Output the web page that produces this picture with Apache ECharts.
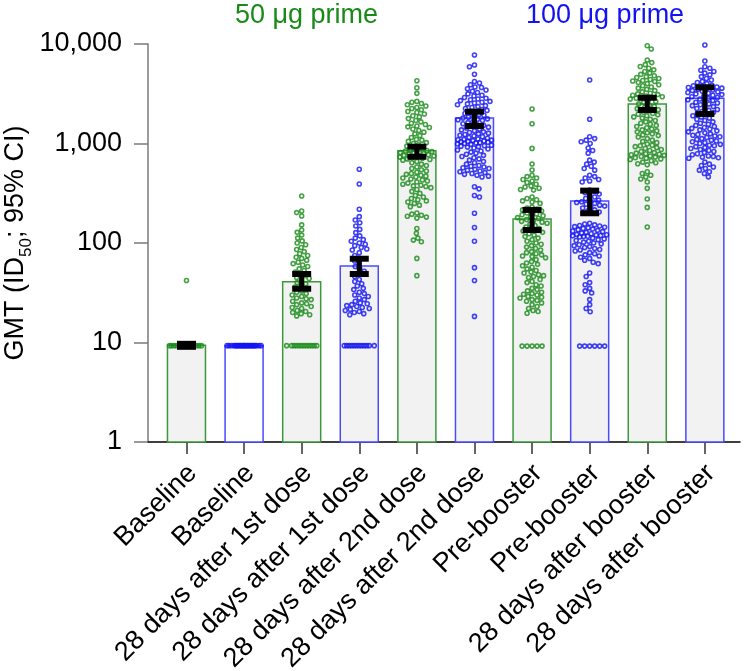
<!DOCTYPE html>
<html><head><meta charset="utf-8">
<script src="https://cdn.jsdelivr.net/npm/echarts@6/dist/echarts.min.js"></script>
<style>html,body{margin:0;padding:0;background:#fff}#c{width:747px;height:671px}</style>
</head><body><div id="c"></div>
<script>
const categories = ['Baseline','Baseline','28 days after 1st dose','28 days after 1st dose','28 days after 2nd dose','28 days after 2nd dose','Pre-booster','Pre-booster','28 days after booster','28 days after booster'];
const groupDose = ['50','100','50','100','50','100','50','100','50','100'];
const gmt = [9.4, 9.3, 40.8, 58.7, 847, 1805, 174, 264, 2495, 2846];
const ciLow = [9.05, null, 34.7, 48.8, 736, 1500, 135, 199, 2172, 1981];
const ciHigh = [9.7, null, 48.8, 69.5, 929, 2089, 215, 336, 2884, 3670];
const yTicks = [1, 10, 100, 1000, 10000];
const headerLabels = ['50 μg prime', '100 μg prime'];

const dots50Baseline = [42, 9.3,9.3,9.3,9.3,9.3,9.3,9.3,9.3,9.3,9.3,9.3,9.3,9.3,9.3];
const dots100Baseline = [9.3,9.3,9.3,9.3,9.3,9.3,9.3,9.3,9.3,9.3,9.3,9.3,9.3,9.3,9.3,9.3,9.3,9.3,9.3,9.3,9.3,9.3,9.3,9.3];
const dots50Dose1 = [297,210,202,187,152,135,128,120,112,105,100,96,90,86,82,78,75,72,70,67,64,62,60,58,55,53,51,49,47,45,44,42,40,39,37,36,35,33,32,31,30,29,28,27.5,27,26,25,24.5,24,23,22.5,22,21,20.5,20,19.5,19,18.5,
  9.3,9.3,9.3,9.3,9.3,9.3,9.3,9.3,9.3,9.3,9.3,9.3];
const dots100Dose1 = [551,392,218,184,170,160,148,137,127,118,112,108,104,100,97,94,90,87,85,80,75,70,66,62,58,55,52,49,46,43,41,39,37,35,34,32,31,30,29,28,27,26,25,24.5,24,23.5,23,22.5,22,21.5,21,20.5,20,19.5,19,
  9.3,9.3,9.3,9.3,9.3,9.3,9.3,9.3,9.3,9.3,9.3,9.3];
const dots50Dose2 = [4276,3637,3192,2650,2600,2520,2450,2380,2300,2250,2180,2100,2050,1980,1900,1850,1780,1700,1650,1600,1550,1500,1470,1450,
  1400,1350,1300,1250,1200,1150,1100,1080,1050,1020,1000,970,940,900,880,860,
  850,840,830,820,810,800,790,780,770,760,750,740,730,720,710,700,690,680,
  660,640,620,600,580,560,545,530,515,500,490,480,470,460,450,440,430,420,410,400,390,380,375,370,
  360,345,330,315,300,290,280,272,265,258,250,240,232,200,195,190,186,182,178,140,125,112,107,103,70,47];
const dots100Dose2 = [7750,6150,5915,4960,4200,4050,3900,3700,3650,3550,3450,3350,3250,3150,3050,3000,2900,2850,2800,2750,2700,2650,2600,2550,2500,2450,2400,2350,
  2300,2250,2200,2150,2100,2050,2000,1960,1920,1880,1840,1800,1770,1750,1730,
  1700,1660,1620,1580,1550,1520,1490,1460,1430,1400,1370,1340,1310,1290,1270,1250,1230,1210,1190,1170,
  1150,1130,1110,1100,1090,1080,1070,1060,1050,1040,1030,1020,1010,1000,990,980,960,950,940,930,920,
  900,880,860,840,820,800,780,760,740,720,700,680,660,640,620,600,590,580,
  570,560,550,540,530,520,510,500,490,480,470,460,368,350,300,290,199,143,104,56.5,42,18.3];
const dots50PreBoost = [2223,1581,893,622,542,480,465,450,435,420,405,390,375,365,355,345,340,290,280,272,265,258,250,
  230,225,220,215,210,205,200,196,192,188,184,180,176,172,168,165,162,158,
  155,150,145,140,136,132,128,124,120,116,112,108,104,100,97,94,91,88,85,82,80,78,76,74,73,
  71,68,65,63,61,59,57,55,53,51,50,48,47,46,45,43,41,40,38,37,35,34,
  33,32,31,30.5,30,29,28.5,28,27,26.5,26,25,24,23,22,21,20.5,19.7, 9.2,9.2,9.2,9.2,9.2];
const dots100PreBoost = [4345,1750,1170,1120,1080,1040,1000,900,850,800,680,650,620,590,560,540,480,465,450,435,420,410,
  340,330,320,310,300,290,280,270,265,260,255,250,245,240,235,230,225,215,210,205,200,
  158,155,152,150,148,146,144,142,140,138,136,134,132,130,128,126,124,122,121,120,119,118,117,116,115,
  112,110,108,106,104,102,100,98,96,94,92,90,88,86,85,83,80,78,76,74,72,70,67,64,62,
  50,46,40,38,35,33,31.5,27,24,22,20.4, 9.2,9.2,9.2,9.2,9.2,9.2];
const dots50Boost = [9610,8910,6900,6500,6200,5950,5700,5500,5300,5100,4950,4800,4700,4600,4500,4400,4300,4250,4200,
  4100,4000,3900,3800,3700,3600,3500,3400,3300,3200,3150,3100,3050,3000,2950,2900,2870,2850,
  2800,2720,2650,2580,2500,2430,2360,2300,2240,2180,2120,2060,2000,1970,1940,
  1900,1850,1800,1750,1700,1650,1600,1560,1520,1480,1440,1400,1370,1340,1310,1280,1250,1220,
  1200,1160,1120,1080,1050,1020,990,960,950,930,910,890,870,850,830,810,800,790,780,770,760,750,740,730,720,710,700,690,670,650,640,625,610,
  520,500,480,460,440,410,354,277,228,145];
const dots100Boost = [9770,6750,5900,5700,5450,5300,5100,4900,4700,4500,4350,4200,4100,4000,3850,
  3800,3750,3700,3650,3600,3550,3500,3450,3400,3350,3300,3250,3200,3150,3100,3050,3000,2950,2900,2850,2800,2750,2700,2650,2600,2550,2500,2450,2400,2350,2300,2250,2200,2150,2100,
  2050,2000,1950,1900,1850,1800,1750,1700,1650,1600,1560,1520,1480,1450,1420,
  1400,1370,1340,1310,1280,1250,1230,1210,1190,1170,1150,1120,1100,1080,1060,1040,1020,1000,980,960,
  950,930,910,890,870,850,830,810,790,770,750,740,730,720,710,650,620,600,580,560,540,520,500,462];
const dotGroups = [dots50Baseline,dots100Baseline,dots50Dose1,dots100Dose1,dots50Dose2,dots100Dose2,dots50PreBoost,dots100PreBoost,dots50Boost,dots100Boost];

const GREEN = '#178a17', BLUE = '#1212f2';
const GREEN_EDGE = '#3b983b', BLUE_EDGE = '#4a4aff';
const FONT = '"Liberation Sans", Arial, Helvetica, sans-serif';

const chart = echarts.init(document.getElementById('c'), null, {renderer:'canvas'});

const option = {
  animation: false,
  backgroundColor: '#fff',
  title: [
    {text: headerLabels[0], left: 235, top: 2, padding: 0, textStyle: {color: GREEN, fontSize: 27, fontWeight: 'normal', fontFamily: FONT}},
    {text: headerLabels[1], left: 526, top: 2, padding: 0, textStyle: {color: BLUE, fontSize: 27, fontWeight: 'normal', fontFamily: FONT}}
  ],
  grid: [
    {left: 148, right: 7, top: 44, bottom: 229, containLabel: false, outerBoundsMode: 'none'},
    {left: 157.7, width: 576, top: 44, bottom: 229, containLabel: false, outerBoundsMode: 'none'}
  ],
  xAxis: [
    {type: 'value', gridIndex: 0, min: -0.668, max: 9.61,
     axisLine: {show: true, onZero: false, lineStyle: {color: '#000', width: 1.5}},
     axisTick: {show: false}, axisLabel: {show: false}, splitLine: {show: false}},
    {type: 'category', gridIndex: 1, data: categories, boundaryGap: true,
     axisLine: {show: false, onZero: false},
     axisTick: {show: true, alignWithLabel: true, interval: 0, length: 12, lineStyle: {color: '#333', width: 1.5}},
     axisLabel: {rotate: 45, interval: 0, fontSize: 27, color: '#000', margin: 21, fontFamily: FONT,
       verticalAlign: 'top', lineHeight: 17}}
  ],
  yAxis: [
    {type: 'log', logBase: 10, gridIndex: 0, min: yTicks[0], max: yTicks[yTicks.length-1],
     axisLine: {show: true, onZero: false, lineStyle: {color: '#7a7a7a', width: 1.5}},
     axisTick: {show: true, length: 14, lineStyle: {color: '#7a7a7a', width: 1.5}},
     minorTick: {show: false}, splitLine: {show: false},
     axisLabel: {fontSize: 27, color: '#000', margin: 26, fontFamily: FONT,
       formatter: v => Math.round(v).toLocaleString('en-US')},
     name: 'GMT (ID{sub|50}; 95% CI)', nameLocation: 'middle', nameGap: 113, nameMoveOverlap: false,
     nameTextStyle: {fontSize: 27, color: '#000', fontFamily: FONT, lineHeight: 38,
       rich: {sub: {fontSize: 17, fontFamily: FONT, color: '#000', verticalAlign: 'bottom', lineHeight: 19}}}},
    {type: 'value', gridIndex: 1, show: false, min: 0, max: 1}
  ],
  series: [
    {type: 'custom', id: 'bars', xAxisIndex: 0, yAxisIndex: 0, z: 1, clip: false,
     data: gmt.map((v, i) => [i, v]),
     renderItem: (params, api) => {
       const i = api.value(0);
       const top = api.coord([i, api.value(1)]);
       const base = api.coord([i, yTicks[0]]);
       const w = 38;
       return {type: 'rect', shape: {x: top[0] - w/2, y: top[1], width: w, height: base[1] - top[1]},
         style: {fill: i === 1 ? '#ffffff' : '#f2f2f2', stroke: groupDose[i] === '50' ? GREEN_EDGE : BLUE_EDGE, lineWidth: 1.5}};
     }},
    {type: 'scatter', id: 'dotsGreen', xAxisIndex: 0, yAxisIndex: 0, z: 2, data: [], symbol: 'circle', symbolSize: 4,
     itemStyle: {color: 'rgba(0,0,0,0)', borderColor: GREEN, borderWidth: 1.6}},
    {type: 'scatter', id: 'dotsBlue', xAxisIndex: 0, yAxisIndex: 0, z: 2, data: [], symbol: 'circle', symbolSize: 4,
     itemStyle: {color: 'rgba(0,0,0,0)', borderColor: BLUE, borderWidth: 1.6}},
    {type: 'custom', id: 'errors', xAxisIndex: 0, yAxisIndex: 0, z: 5, clip: false,
     data: gmt.map((v, i) => [i, ciLow[i], ciHigh[i]]).filter(d => d[1] != null),
     renderItem: (params, api) => {
       const i = api.value(0);
       const lo = api.coord([i, api.value(1)]);
       const hi = api.coord([i, api.value(2)]);
       const capW = 19, capH = 6, stemW = 5;
       return {type: 'group', children: [
         {type: 'rect', shape: {x: lo[0] - stemW/2, y: hi[1], width: stemW, height: lo[1] - hi[1]}, style: {fill: '#000'}},
         {type: 'rect', shape: {x: hi[0] - capW/2, y: hi[1] - capH/2, width: capW, height: capH}, style: {fill: '#000'}},
         {type: 'rect', shape: {x: lo[0] - capW/2, y: lo[1] - capH/2, width: capW, height: capH}, style: {fill: '#000'}}
       ]};
     }}
  ]
};
chart.setOption(option);

// beeswarm layout computed from the library's scales
const pxPerUnit = chart.convertToPixel({xAxisIndex: 0}, 1) - chart.convertToPixel({xAxisIndex: 0}, 0);
function swarm(values, idx) {
  const pts = values.map(v => ({v: v, y: chart.convertToPixel({yAxisIndex: 0}, v)}));
  pts.sort((a, b) => a.y - b.y);
  const placed = [];
  const D = 4.9, MAXH = 17, STEP = 0.5;
  pts.forEach((p, n) => {
    let best = 0, bestScore = -1;
    outer:
    for (let k = 0; k <= MAXH / STEP; k++) {
      const cands = k === 0 ? [0] : (n % 2 ? [k*STEP, -k*STEP] : [-k*STEP, k*STEP]);
      for (const o of cands) {
        let minD = Infinity;
        for (const q of placed) {
          const dy = q.y - p.y;
          if (Math.abs(dy) >= D) continue;
          const d = Math.hypot(q.x - o, dy);
          if (d < minD) minD = d;
        }
        if (minD >= D) { best = o; bestScore = Infinity; break outer; }
        if (minD > bestScore) { bestScore = minD; best = o; }
      }
    }
    p.x = best;
    placed.push(p);
  });
  return pts.map(p => [idx + p.x / pxPerUnit, p.v]);
}
const greenData = [], blueData = [];
dotGroups.forEach((g, i) => {
  const pts = swarm(g, i);
  (groupDose[i] === '50' ? greenData : blueData).push(...pts);
});
chart.setOption({series: [{id: 'dotsGreen', data: greenData}, {id: 'dotsBlue', data: blueData}]});
</script></body></html>
